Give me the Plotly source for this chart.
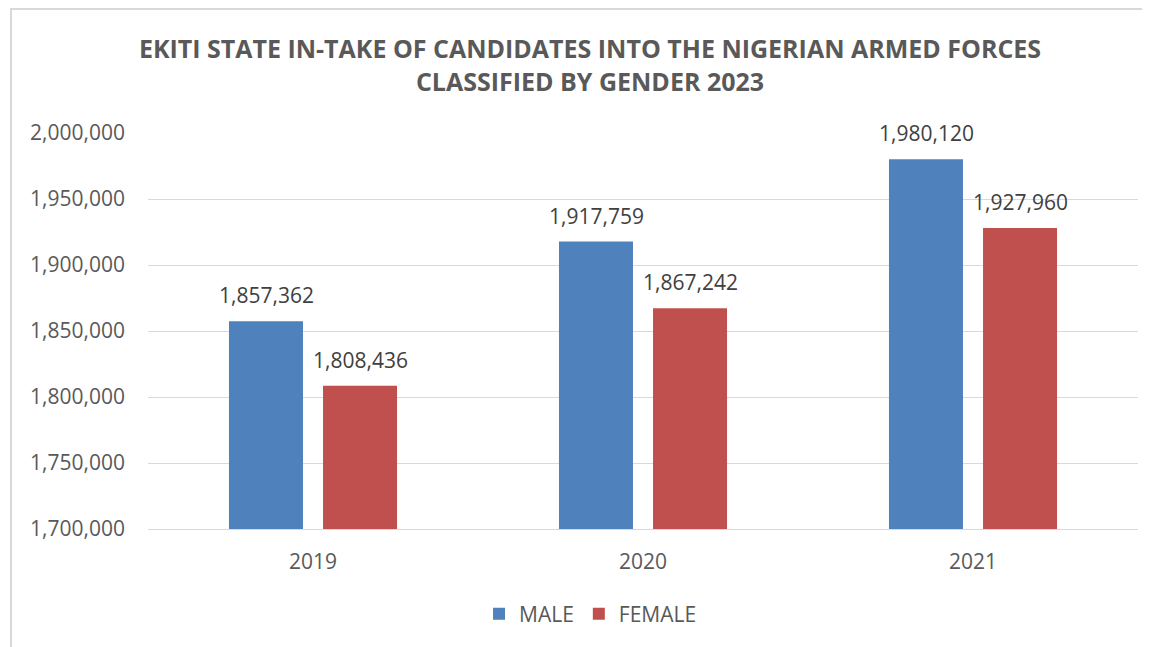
import plotly.graph_objects as go

years = [2019, 2020, 2021]
male = [1857362, 1917759, 1980120]
female = [1808436, 1867242, 1927960]
tick_vals = [1700000, 1750000, 1800000, 1850000, 1900000, 1950000, 2000000]

BLUE = "#4F81BD"
RED = "#C0504D"
TXT = "#595959"
FONT = "Open Sans"

fig = go.Figure()
fig.add_trace(go.Bar(x=years, y=male, name="MALE", marker=dict(color=BLUE, line=dict(width=0))))
fig.add_trace(go.Bar(x=years, y=female, name="FEMALE", marker=dict(color=RED, line=dict(width=0))))

for series, shift in ((male, -47), (female, 47)):
    for yr, v in zip(years, series):
        fig.add_annotation(x=yr, y=v, text=f"{v:,}", showarrow=False, xshift=shift,
                           yshift=10, yanchor="bottom", font=dict(family=FONT, size=21, color="#404040"))

fig.add_shape(type="rect", xref="paper", yref="paper", x0=-0.1384, x1=1.05, y0=-0.5, y1=1.3131,
              line=dict(color="#D9D9D9", width=2), fillcolor="rgba(0,0,0,0)", layer="below")

W, H = 1142, 639
fig.update_layout(
    width=W, height=H,
    margin=dict(l=140, r=12, t=125, b=118, autoexpand=False),
    paper_bgcolor="white", plot_bgcolor="white",
    barmode="group", bargap=0.43, bargroupgap=0.213,
    title=dict(text="EKITI STATE IN-TAKE OF CANDIDATES INTO THE NIGERIAN ARMED FORCES<br>CLASSIFIED BY GENDER 2023",
               x=582 / W, xanchor="center", y=1 - 50 / H, yanchor="middle",
               font=dict(family=FONT, size=25, color=TXT, weight="bold")),
    legend=dict(orientation="h", x=0.447, xanchor="center", y=-0.215, yanchor="middle",
                font=dict(family=FONT, size=21, color=TXT), itemwidth=30, traceorder="normal"),
    font=dict(family=FONT, color=TXT),
)
fig.update_yaxes(range=[1700000, 2000000], tickvals=tick_vals, tickformat=",d", automargin=False,
                 showgrid=True, gridcolor="#D9D9D9", gridwidth=1, zeroline=False,
                 tickfont=dict(family=FONT, size=21, color=TXT), ticklabelstandoff=22, showline=False)
fig.update_xaxes(range=[2018.5, 2021.5], tickvals=years, tickformat="d", automargin=False,
                 showgrid=False, zeroline=False, showline=True, linecolor="#D9D9D9", linewidth=1, ticks="",
                 tickfont=dict(family=FONT, size=21, color=TXT), ticklabelstandoff=14)

fig.write_html("out.html")
